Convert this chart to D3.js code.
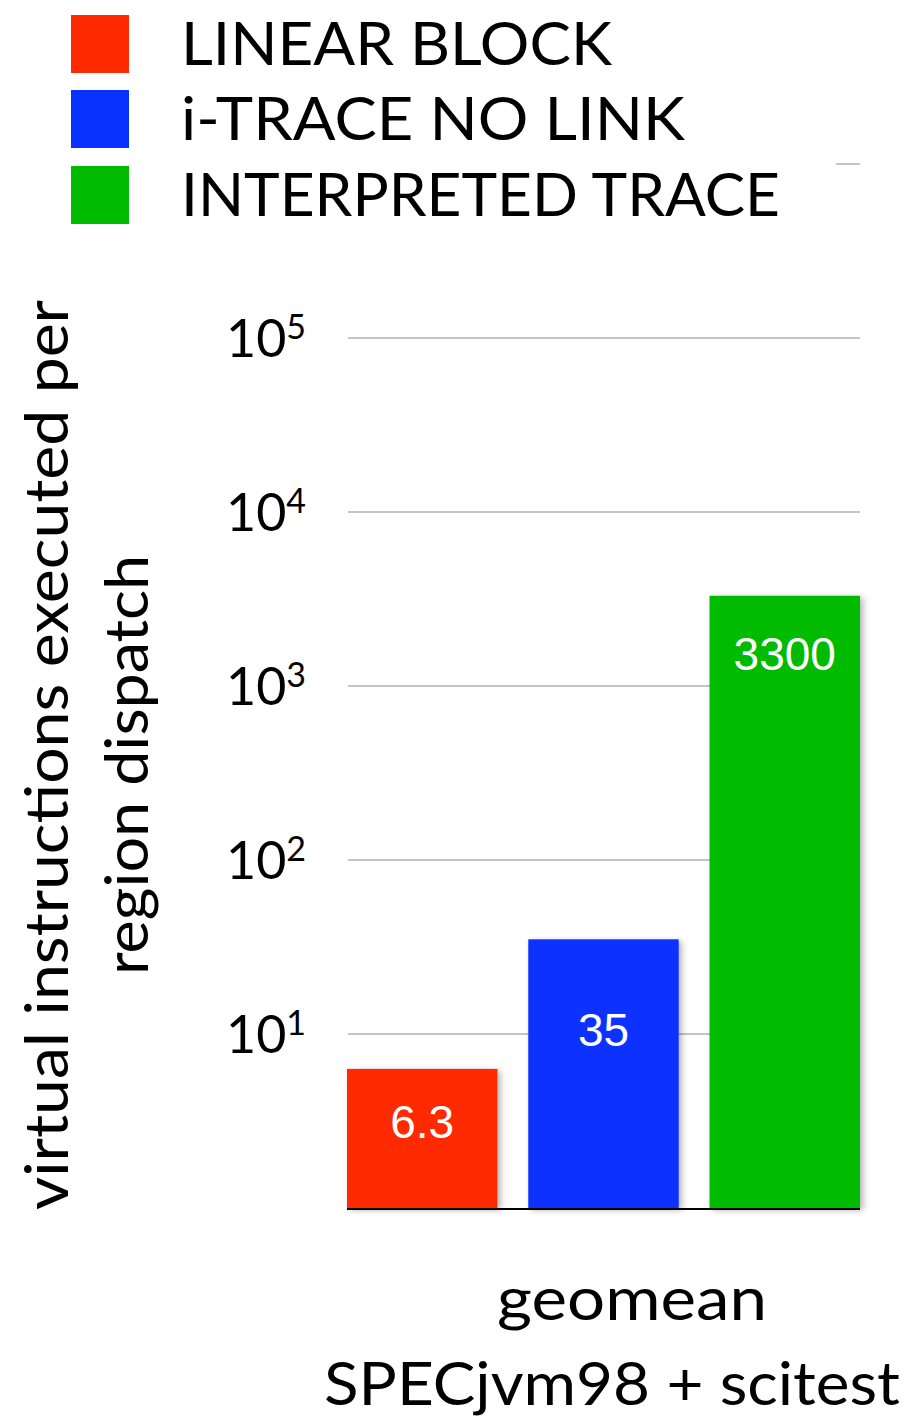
<!DOCTYPE html>
<html>
<head>
<meta charset="utf-8">
<script src="https://cdn.jsdelivr.net/npm/d3@7"></script>
<style>
  html, body { margin: 0; padding: 0; background: #fff; }
  svg { display: block; }
</style>
</head>
<body>
<svg id="chart" width="914" height="1420"></svg>
<script>
// Series shown, one bar each
const seriesNames = ["LINEAR BLOCK", "i-TRACE NO LINK", "INTERPRETED TRACE"];
const seriesValues = [6.3, 35, 3300];
const valueLabels = ["6.3", "35", "3300"];
const seriesColors = ["#ff2a00", "#0a32ff", "#00bb00"];
const tickExponents = [1, 2, 3, 4, 5];
const categoryLines = ["geomean", "SPECjvm98 + scitest"];
const yTitleLines = ["virtual instructions executed per", "region dispatch"];

const svg = d3.select("#chart");
const labelFont = "Lato, 'Open Sans', sans-serif";

const defs = svg.append("defs");
const shadow = defs.append("filter").attr("id", "barShadow")
  .attr("x", "-10%").attr("y", "-10%").attr("width", "130%").attr("height", "130%");
shadow.append("feDropShadow").attr("dx", 3).attr("dy", 2).attr("stdDeviation", 3)
  .attr("flood-color", "#000").attr("flood-opacity", 0.3);

// Log scale: 10^0 at the baseline, one decade every ~174px
const y = d3.scaleLog().domain([1, 1e6]).range([1208, 164]);
const x = d3.scaleBand().domain(seriesNames).range([347, 860]).paddingInner(0.17).paddingOuter(0);

// Gridlines
const gridTicks = tickExponents.map(e => Math.pow(10, e));
svg.append("g").selectAll("line").data(gridTicks).join("line")
  .attr("x1", 348).attr("x2", 860)
  .attr("y1", d => y(d)).attr("y2", d => y(d))
  .attr("stroke", "#c4c4c4").attr("stroke-width", 2);
// Top gridline (10^6) mostly hidden behind the legend
svg.append("line").attr("x1", 836).attr("x2", 860)
  .attr("y1", y(1e6)).attr("y2", y(1e6))
  .attr("stroke", "#c4c4c4").attr("stroke-width", 2);

// Tick labels 10^n
const tickG = svg.append("g");
tickExponents.forEach(e => {
  const t = tickG.append("text")
    .attr("x", 226).attr("y", y(Math.pow(10, e)) + 19)
    .attr("font-family", labelFont).attr("font-size", 52).attr("fill", "#000");
  t.append("tspan").text("10");
  t.append("tspan").attr("font-size", 34).attr("dy", -18).text(e);
});

// Bars
svg.append("g").selectAll("rect").data(seriesValues).join("rect")
  .attr("x", (d, i) => x(seriesNames[i]))
  .attr("width", x.bandwidth())
  .attr("y", d => y(d))
  .attr("height", d => y(1) - y(d))
  .attr("fill", (d, i) => seriesColors[i])
  .attr("filter", "url(#barShadow)");

// Baseline
svg.append("line").attr("x1", 347).attr("x2", 860)
  .attr("y1", y(1) + 1).attr("y2", y(1) + 1)
  .attr("stroke", "#000").attr("stroke-width", 2);

// Value labels inside bars
const labelOffsets = [69, 107, 74];
svg.append("g").selectAll("text").data(seriesValues).join("text")
  .attr("x", (d, i) => x(seriesNames[i]) + x.bandwidth() / 2)
  .attr("y", (d, i) => y(d) + labelOffsets[i])
  .attr("text-anchor", "middle")
  .attr("font-family", "'Liberation Sans', Arial, sans-serif")
  .attr("font-size", 46).attr("fill", "#fff")
  .text((d, i) => valueLabels[i]);

// Legend
const legendRows = [
  { top: 15, textEnd: 612 },
  { top: 90, textEnd: 685 },
  { top: 166, textEnd: 780 }
];
const legend = svg.append("g");
seriesNames.forEach((name, i) => {
  const r = legendRows[i];
  legend.append("rect").attr("x", 71).attr("y", r.top)
    .attr("width", 58).attr("height", 58).attr("fill", seriesColors[i]);
  legend.append("text").attr("x", 181).attr("y", r.top + 50)
    .attr("font-family", labelFont).attr("font-size", 60).attr("fill", "#000")
    .attr("textLength", r.textEnd - 181).attr("lengthAdjust", "spacingAndGlyphs")
    .text(name);
});

// Y-axis title (two rotated lines)
const yTitle = [
  { cx: 68, cy: 755, len: 910 },
  { cx: 148, cy: 765, len: 420 }
];
yTitleLines.forEach((line, i) => {
  const p = yTitle[i];
  svg.append("text")
    .attr("transform", `translate(${p.cx},${p.cy}) rotate(-90)`)
    .attr("text-anchor", "middle")
    .attr("font-family", labelFont).attr("font-size", 60).attr("fill", "#000")
    .attr("textLength", p.len).attr("lengthAdjust", "spacingAndGlyphs")
    .text(line);
});

// Category label below the baseline
const catRows = [
  { cx: 632, base: 1320, len: 270 },
  { cx: 612, base: 1405, len: 576 }
];
categoryLines.forEach((line, i) => {
  const r = catRows[i];
  svg.append("text").attr("x", r.cx).attr("y", r.base)
    .attr("text-anchor", "middle")
    .attr("font-family", labelFont).attr("font-size", 60).attr("fill", "#000")
    .attr("textLength", r.len).attr("lengthAdjust", "spacingAndGlyphs")
    .text(line);
});
</script>
</body>
</html>
